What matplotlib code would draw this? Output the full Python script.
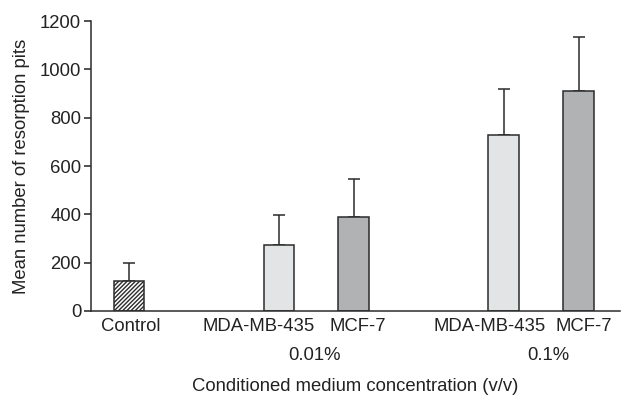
import matplotlib
matplotlib.use('Agg')
import matplotlib.pyplot as plt

# --- data ---
labels = ["Control", "MDA-MB-435", "MCF-7", "MDA-MB-435", "MCF-7"]
positions = [0, 2, 3, 5, 6]
label_pos = [0.03, 1.73, 3.05, 4.81, 6.07]   # labels sit a bit off the bar centres
means = [125, 275, 388, 728, 911]
errors = [72, 122, 160, 190, 222]
colors = ["white", "#e3e4e5", "#b1b2b4", "#e3e4e5", "#b1b2b4"]
hatches = ["////////", "", "", "", ""]
group_labels = ["0.01%", "0.1%"]
group_pos = [2.47, 5.6]

plt.rcParams['font.family'] = ['Liberation Sans', 'DejaVu Sans']
plt.rcParams['hatch.linewidth'] = 1.0
plt.rcParams['hatch.color'] = '#222222'

FS = 13.3
TXT = '#222222'

fig = plt.figure(figsize=(6.3, 3.98), dpi=100)
ax = fig.add_axes([0.1444, 0.2186, 0.8396, 0.7284])

edge = "#2b2b2b"
for p, m, e, c, h in zip(positions, means, errors, colors, hatches):
    ax.bar(p, m, width=0.41, color=c, edgecolor=edge, linewidth=1.1, hatch=h, zorder=2)
    ax.errorbar(p, m, yerr=[[0], [e]], fmt='none', ecolor=edge, elinewidth=1.1,
                capsize=4.5, capthick=1.1, zorder=1)

ax.set_xlim(-0.507, 6.55)
ax.set_ylim(0, 1200)
ax.set_yticks(range(0, 1201, 200))
ax.set_xticks([])
ax.tick_params(axis='y', length=5, width=1.1, direction='out', labelsize=FS, colors=TXT, pad=2)
for s in ['top', 'right']:
    ax.spines[s].set_visible(False)
for s in ['left', 'bottom']:
    ax.spines[s].set_linewidth(1.1)
    ax.spines[s].set_color('#2b2b2b')

xt = ax.get_xaxis_transform()
for lab, lp in zip(labels, label_pos):
    ax.text(lp, -0.054, lab, transform=xt, ha='center', va='center', fontsize=FS, color=TXT)
for g, gp in zip(group_labels, group_pos):
    ax.text(gp, -0.152, g, transform=xt, ha='center', va='center', fontsize=FS, color=TXT)

ax.set_ylabel("Mean number of resorption pits", fontsize=FS, color=TXT, labelpad=7)
ax.text(0.5, -0.261, "Conditioned medium concentration (v/v)", transform=ax.transAxes,
        ha='center', va='center', fontsize=FS, color=TXT)

fig.savefig("out.png", dpi=100)
